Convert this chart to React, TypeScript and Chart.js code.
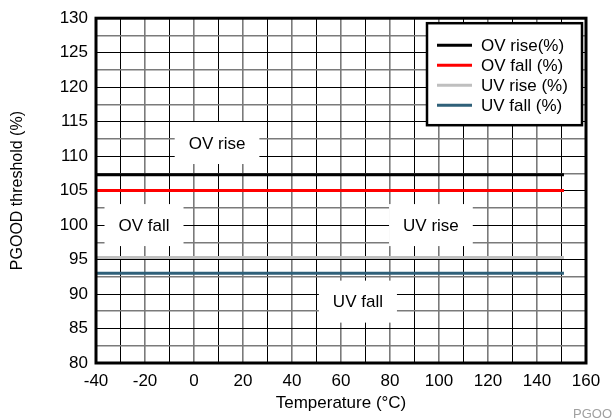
import React, { useEffect, useRef } from "react";
import { Chart, registerables } from "chart.js";

Chart.register(...registerables);

// ---- data ----
const temperatures = [-40, 151];
const ovRise = [107.3, 107.3];
const ovFall = [105, 105];
const uvRise = [95.3, 95.3];
const uvFall = [93, 93];

const seriesLabels = ["OV rise(%)", "OV fall (%)", "UV rise (%)", "UV fall (%)"];
const seriesColors = ["#000000", "#ff0000", "#bfbfbf", "#2f6079"];

const noteTexts = ["OV rise", "OV fall", "UV rise", "UV fall"];
const noteX = [9.4, -20.4, 96.7, 66.9];
const noteY = [111.9, 100.0, 100.0, 88.9];

const FONT = "'Liberation Sans', Arial, Helvetica, sans-serif";
const FS = 17;

const overlayPlugin = {
  id: "overlay",
  beforeDatasetsDraw(chart: any) {
    const { ctx, scales } = chart;
    ctx.save();
    ctx.font = `${FS}px ${FONT}`;
    ctx.textAlign = "center";
    ctx.textBaseline = "middle";
    noteTexts.forEach((t, i) => {
      const cx = scales.x.getPixelForValue(noteX[i]);
      const cy = scales.y.getPixelForValue(noteY[i]);
      const w = ctx.measureText(t).width + 28;
      const h = 42;
      ctx.fillStyle = "#ffffff";
      ctx.fillRect(cx - w / 2, cy - h / 2, w, h);
      ctx.fillStyle = "#000000";
      ctx.fillText(t, cx, cy + 1);
    });
    ctx.restore();
  },
  afterDraw(chart: any) {
    const { ctx, chartArea } = chart;
    const { left, right, top, bottom } = chartArea;
    ctx.save();
    // legend
    const bx = right - 159;
    const by = top + 5;
    const bw = 155;
    const bh = 102;
    ctx.fillStyle = "#ffffff";
    ctx.fillRect(bx, by, bw, bh);
    ctx.strokeStyle = "#000000";
    ctx.lineWidth = 2.5;
    ctx.strokeRect(bx, by, bw, bh);
    ctx.font = `${FS}px ${FONT}`;
    ctx.textAlign = "left";
    ctx.textBaseline = "middle";
    chart.data.datasets.forEach((ds: any, i: number) => {
      const y = by + 22 + i * 20;
      ctx.strokeStyle = ds.borderColor;
      ctx.lineWidth = 3;
      ctx.beginPath();
      ctx.moveTo(bx + 10, y);
      ctx.lineTo(bx + 45, y);
      ctx.stroke();
      ctx.fillStyle = "#000000";
      ctx.fillText(ds.label, bx + 54, y + 1);
    });
    // frame
    ctx.strokeStyle = "#000000";
    ctx.lineWidth = 3;
    ctx.strokeRect(left, top, right - left, bottom - top);
    // corner caption
    ctx.fillStyle = "#a0a0a0";
    ctx.font = `13px ${FONT}`;
    ctx.textAlign = "left";
    ctx.textBaseline = "alphabetic";
    ctx.fillText("PGOOD", 573, 418);
    ctx.restore();
  },
};

export default function App() {
  const ref = useRef<HTMLCanvasElement>(null);
  useEffect(() => {
    document.body.style.margin = "0";
    const mk = (vals: number[]) => temperatures.map((t, i) => ({ x: t, y: vals[i] }));
    const all = [ovRise, ovFall, uvRise, uvFall];
    const chart = new Chart(ref.current!, {
      type: "line",
      data: {
        datasets: all.map((v, i) => ({
          label: seriesLabels[i],
          data: mk(v),
          borderColor: seriesColors[i],
          backgroundColor: seriesColors[i],
          borderWidth: 3,
          pointRadius: 0,
          tension: 0,
        })),
      },
      plugins: [overlayPlugin],
      options: {
        animation: false,
        responsive: false,
        maintainAspectRatio: false,
        layout: { padding: { top: 14, right: 27, left: 8, bottom: 0 } },
        plugins: { legend: { display: false }, tooltip: { enabled: false } },
        scales: {
          x: {
            type: "linear",
            min: -40,
            max: 160,
            afterFit: (s: any) => {
              s.height = 57;
            },
            ticks: {
              stepSize: 10,
              autoSkip: false,
              maxRotation: 0,
              color: "#000",
              padding: 8,
              font: { family: FONT, size: FS },
              callback: (v: any) => (Number(v) % 20 === 0 ? String(v) : ""),
            },
            grid: {
              drawTicks: false,
              color: (c: any) => (c.tick && c.tick.value % 20 === 0 ? "#7a7a7a" : "#000000"),
              lineWidth: (c: any) => (c.tick && c.tick.value % 20 === 0 ? 1.6 : 1),
            },
            border: { display: false },
            title: {
              display: true,
              text: "Temperature (°C)",
              color: "#000",
              font: { family: FONT, size: FS },
              padding: { top: 0, bottom: 6 },
            },
          },
          y: {
            type: "linear",
            min: 80,
            max: 130,
            afterFit: (s: any) => {
              s.width = 88;
            },
            ticks: {
              stepSize: 2.5,
              autoSkip: false,
              color: "#000",
              padding: 8,
              font: { family: FONT, size: FS },
              callback: (v: any) => (Number(v) % 5 === 0 ? String(v) : ""),
            },
            grid: {
              drawTicks: false,
              color: (c: any) => (c.tick && c.tick.value % 5 !== 0 ? "#7a7a7a" : "#000000"),
              lineWidth: (c: any) => (c.tick && c.tick.value % 5 !== 0 ? 1.6 : 1),
            },
            border: { display: false },
            title: {
              display: true,
              text: "PGOOD threshold (%)",
              color: "#000",
              font: { family: FONT, size: FS - 1 },
              padding: { top: 0, bottom: 0 },
            },
          },
        },
      },
    } as any);
    return () => chart.destroy();
  }, []);
  return (
    <div style={{ width: 613, height: 420, position: "relative" }}>
      <canvas ref={ref} width={613} height={420} style={{ display: "block" }} />
    </div>
  );
}
